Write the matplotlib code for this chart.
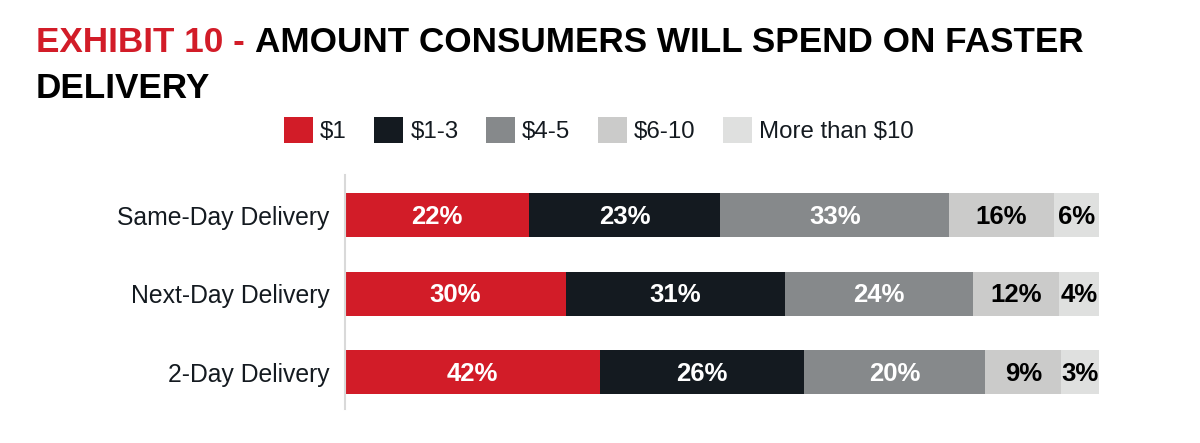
import numpy as np
import matplotlib.pyplot as plt

plt.rcParams['font.family'] = ['Liberation Sans', 'DejaVu Sans']

# --- data ---
categories = ["Same-Day Delivery", "Next-Day Delivery", "2-Day Delivery"]
series = ["$1", "$1-3", "$4-5", "$6-10", "More than $10"]
# printed labels
labels = np.array([
    [22, 23, 33, 16, 6],
    [30, 31, 24, 12, 4],
    [42, 26, 20, 9, 3],
])
# drawn segment lengths as they appear in the picture (share of bar length)
widths = np.array([
    [24.4, 25.4, 30.3, 13.9, 6.0],
    [29.3, 29.1, 24.9, 11.4, 5.3],
    [33.8, 27.1, 24.0, 10.1, 5.0],
])
colors = ["#d21c28", "#141a20", "#86898b", "#cbcbca", "#dfe0df"]
text_colors = ["white", "white", "white", "black", "black"]

fig = plt.figure(figsize=(12, 4.43), dpi=100)
ax = fig.add_axes([345/1200, 1 - 409/443, 754/1200, 234/443])

y = np.arange(len(categories))
left = np.zeros(len(categories))
handles = []
for j, name in enumerate(series):
    bars = ax.barh(y, widths[:, j], left=left, height=0.56, color=colors[j],
                   label=name, linewidth=0)
    handles.append(bars)
    for i in range(len(categories)):
        ax.text(left[i] + widths[i, j] / 2, y[i] + 0.02, f"{labels[i, j]}%",
                ha="center", va="center", color=text_colors[j],
                fontsize=18.5, fontweight="bold")
    left += widths[:, j]

ax.set_xlim(0, 100)
ax.set_ylim(2.47, -0.51)
ax.set_yticks(y)
ax.set_yticklabels(categories, fontsize=17.8, color="#141a20")
ax.tick_params(axis="y", length=0, pad=11)
ax.set_xticks([])
for s in ["top", "right", "bottom"]:
    ax.spines[s].set_visible(False)
ax.spines["left"].set_color("#d9d9d9")
ax.spines["left"].set_linewidth(1.5)

# --- title ---
t1 = fig.text(36/1200, 1 - 52/443, "EXHIBIT 10 - ", color="#d21c28",
              fontsize=25.3, fontweight="bold", va="baseline")
fig.canvas.draw()
ext = t1.get_window_extent()
fig.text(ext.x1 / fig.bbox.width, 1 - 52/443,
         "AMOUNT CONSUMERS WILL SPEND ON FASTER", color="black",
         fontsize=25.3, fontweight="bold", va="baseline")
fig.text(36/1200, 1 - 98/443, "DELIVERY", color="black",
         fontsize=25.3, fontweight="bold", va="baseline")

# --- legend ---
fig.legend(handles=handles, labels=series, loc="center",
           bbox_to_anchor=(599/1200, 1 - 130/443), ncol=5, frameon=False,
           fontsize=17.3, handlelength=1.2, handleheight=1.25,
           handletextpad=0.3, columnspacing=1.15, borderpad=0,
           labelcolor="#141a20")

plt.savefig("out.png", dpi=100)
